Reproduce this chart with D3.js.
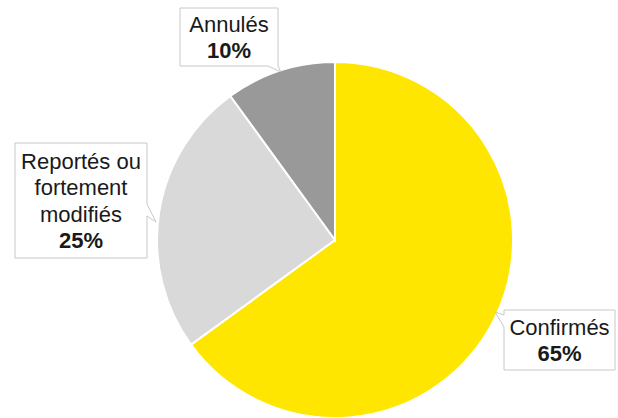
<!DOCTYPE html>
<html>
<head>
<meta charset="utf-8">
<script src="https://cdn.jsdelivr.net/npm/d3@7"></script>
<style>
  body { margin: 0; background: #fff; }
  text { font-family: "Liberation Sans", Arial, sans-serif; fill: #1a1a1a; }
</style>
</head>
<body>
<div id="chart"></div>
<script>
// data
var categories = ["Confirmés", "Reportés ou fortement modifiés", "Annulés"];
var values = [65, 25, 10];
var labelLines = [["Confirmés"], ["Reportés ou", "fortement", "modifiés"], ["Annulés"]];
var colors = ["#ffe600", "#d9d9d9", "#999999"];

var width = 618, height = 418;
var cx = 335, cy = 240, radius = 178;

var svg = d3.select("#chart")
  .append("svg")
    .attr("width", width)
    .attr("height", height);

var pie = d3.pie().sort(null).value((d) => d);
var arcs = pie(values);
var arc = d3.arc().innerRadius(0).outerRadius(radius);

var g = svg.append("g")
  .attr("transform", "translate(" + cx + "," + cy + ")");

g.selectAll("path")
  .data(arcs)
  .enter()
  .append("path")
    .attr("d", arc)
    .attr("fill", (d, i) => colors[i])
    .attr("stroke", "#fff")
    .attr("stroke-width", 2);

// callout boxes: box + little pointer toward the slice
var boxes = [
  { x0: 504, y0: 310, x1: 615, y1: 370, side: "left", a: 315, b: 327, tip: [495, 312] },
  { x0: 15, y0: 143, x1: 147, y1: 258, side: "right", a: 204, b: 216, tip: [156, 222] },
  { x0: 180, y0: 8, x1: 278, y1: 66, side: "bottom", a: 268, b: 278, tip: [281, 72] }
];

function calloutPath(bx) {
  var p = d3.path();
  if (bx.side === "left") {
    p.moveTo(bx.x0, bx.y0);
    p.lineTo(bx.x1, bx.y0);
    p.lineTo(bx.x1, bx.y1);
    p.lineTo(bx.x0, bx.y1);
    p.lineTo(bx.x0, bx.b);
    p.lineTo(bx.tip[0], bx.tip[1]);
    p.lineTo(bx.x0, bx.a);
  } else if (bx.side === "right") {
    p.moveTo(bx.x0, bx.y0);
    p.lineTo(bx.x1, bx.y0);
    p.lineTo(bx.x1, bx.a);
    p.lineTo(bx.tip[0], bx.tip[1]);
    p.lineTo(bx.x1, bx.b);
    p.lineTo(bx.x1, bx.y1);
    p.lineTo(bx.x0, bx.y1);
  } else {
    p.moveTo(bx.x0, bx.y0);
    p.lineTo(bx.x1, bx.y0);
    p.lineTo(bx.x1, bx.y1);
    p.lineTo(bx.tip[0], bx.tip[1]);
    p.lineTo(bx.a, bx.y1);
    p.lineTo(bx.x0, bx.y1);
  }
  p.closePath();
  return p.toString();
}

var lineH = 26.5;
var labels = svg.selectAll("g.label")
  .data(arcs)
  .enter()
  .append("g")
    .attr("class", "label");

labels.append("path")
  .attr("d", (d, i) => calloutPath(boxes[i]))
  .attr("fill", "#fff")
  .attr("stroke", "#c8c8c8")
  .attr("stroke-width", 1);

labels.each(function (d, i) {
  var bx = boxes[i];
  var lines = labelLines[i];
  var n = lines.length + 1;
  var midX = (bx.x0 + bx.x1) / 2;
  var midY = (bx.y0 + bx.y1) / 2;
  var firstBase = midY - (n - 1) * lineH / 2 + 8;
  var t = d3.select(this).append("text")
    .attr("text-anchor", "middle")
    .style("font-size", "22px");
  lines.forEach((l, k) => {
    t.append("tspan")
      .attr("x", midX)
      .attr("y", firstBase + k * lineH)
      .text(l);
  });
  t.append("tspan")
    .attr("x", midX)
    .attr("y", firstBase + lines.length * lineH)
    .style("font-weight", "bold")
    .text(values[i] + "%");
});
</script>
</body>
</html>
